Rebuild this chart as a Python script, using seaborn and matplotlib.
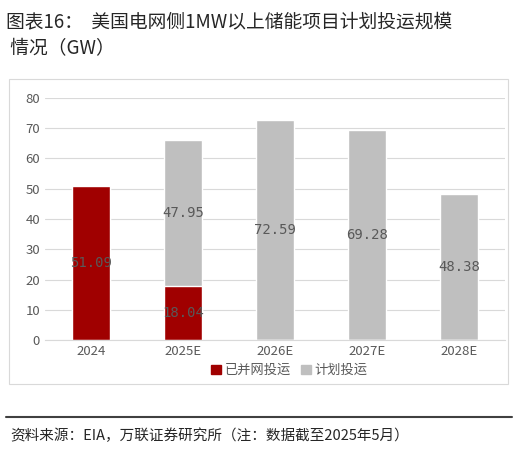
import matplotlib
matplotlib.use("Agg")
import matplotlib.pyplot as plt
import seaborn as sns
import pandas as pd

years = ["2024", "2025E", "2026E", "2027E", "2028E"]
online = [51.09, 18.04, 0, 0, 0]
planned = [0, 47.95, 72.59, 69.28, 48.38]

sns.set_style("white")
plt.rcParams['font.family'] = ['Noto Sans CJK SC', 'DejaVu Sans']

fig = plt.figure(figsize=(5.17, 4.49), dpi=100)
ax = fig.add_axes([0.087, 0.242, 0.89, 0.54])

df = pd.DataFrame({"year": years, "online": online, "total": [a + b for a, b in zip(online, planned)]})
sns.barplot(data=df, x="year", y="total", color="#BFBFBF", width=0.42, ax=ax, saturation=1)
sns.barplot(data=df, x="year", y="online", color="#A00000", width=0.42, ax=ax, saturation=1)

for i in range(len(years)):
    if online[i] > 0:
        ax.text(i, online[i] / 2, f"{online[i]:.2f}", ha="center", va="center", fontsize=10, color="#595959", family="DejaVu Sans Mono")
    if planned[i] > 0:
        ax.text(i, online[i] + planned[i] / 2, f"{planned[i]:.2f}", ha="center", va="center", fontsize=10, color="#595959", family="DejaVu Sans Mono")

ax.set_ylim(0, 80)
ax.set_yticks(range(0, 81, 10))
ax.yaxis.grid(True, color="#D9D9D9", lw=0.8)
ax.set_axisbelow(True)
for s in ["top", "right", "left"]:
    ax.spines[s].set_visible(False)
ax.spines["bottom"].set_color("#D9D9D9")
ax.tick_params(colors="#595959", labelsize=9.5, length=0)
ax.set_xlabel("")
ax.set_ylabel("")

from matplotlib.patches import Patch, Rectangle
fig.legend(handles=[Patch(color="#A00000", label="已并网投运"), Patch(color="#BFBFBF", label="计划投运")],
           loc="center", bbox_to_anchor=(0.56, 0.175), ncol=2, frameon=False, fontsize=9.5,
           handlelength=0.7, handleheight=0.7, columnspacing=0.8, handletextpad=0.3, labelcolor="#595959")

fig.patches.append(Rectangle((0.017, 0.145), 0.966, 0.68, transform=fig.transFigure, fill=False, ec="#D9D9D9", lw=0.8))

fig.text(0.012, 0.975, "图表16：  美国电网侧1MW以上储能项目计划投运规模\n 情况（GW）", ha="left", va="top", fontsize=13.5, linespacing=1.35)
fig.add_artist(plt.Line2D([0.012, 0.99], [0.072, 0.072], color="#404040", lw=1.5, transform=fig.transFigure))
fig.text(0.02, 0.03, "资料来源：EIA，万联证券研究所（注：数据截至2025年5月）", ha="left", va="center", fontsize=10.5, style="italic")

fig.savefig("out.png", dpi=100)
